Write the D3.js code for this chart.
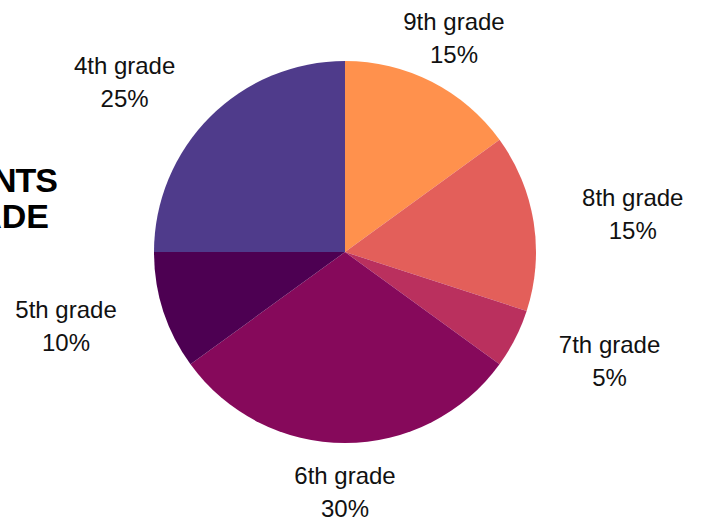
<!DOCTYPE html>
<html>
<head>
<meta charset="utf-8">
<script src="https://cdn.jsdelivr.net/npm/d3@7"></script>
<style>
  body { margin: 0; background: #fff; }
  svg { display: block; }
</style>
</head>
<body>
<div id="chart"></div>
<script>
const width = 701;
const height = 520;

// data
const grades = ["9th grade", "8th grade", "7th grade", "6th grade", "5th grade", "4th grade"];
const shares = [15, 15, 5, 30, 10, 25];
const colors = ["#FF914D", "#E35F5A", "#BA305E", "#86095B", "#4D0052", "#4F3B8B"];
const titleLines = ["STUDENTS", "BY GRADE"];

const cx = 345, cy = 252;
const radius = 191;
const labelRadius = 240;

const svg = d3.select("#chart")
    .append("svg")
    .attr("width", width)
    .attr("height", height);

// title, cut off at the left edge
const titleEnds = [57, 49];
const titleBase = [192, 228];
const titleSpacing = [-1, 0];
titleLines.forEach((line, i) => {
    svg.append("text")
        .attr("x", titleEnds[i]).attr("y", titleBase[i])
        .attr("text-anchor", "end")
        .attr("font-family", "Liberation Sans, Arial, sans-serif")
        .attr("font-weight", "bold")
        .attr("font-size", 34)
        .attr("letter-spacing", titleSpacing[i])
        .attr("fill", "#000")
        .text(line);
});

const color = d3.scaleOrdinal().domain(grades).range(colors);

const pie = d3.pie()
    .sort(null)
    .value(d => d.value);

const data = grades.map((g, i) => ({ grade: g, value: shares[i] }));
const arcs = pie(data);

const arc = d3.arc().innerRadius(0).outerRadius(radius);
const labelArc = d3.arc().innerRadius(labelRadius).outerRadius(labelRadius);

const g = svg.append("g").attr("transform", `translate(${cx},${cy})`);

g.selectAll("path")
    .data(arcs)
    .join("path")
    .attr("d", arc)
    .attr("fill", d => color(d.data.grade));

const total = d3.sum(shares);

// labels: block anchored by side, lines centred inside the block
const labels = g.selectAll("g.label")
    .data(arcs)
    .join("g")
    .attr("class", "label");

labels.each(function(d) {
    const [x, y] = labelArc.centroid(d);
    const mid = (d.startAngle + d.endAngle) / 2;
    const s = Math.sin(mid);
    const node = d3.select(this);
    const lines = [d.data.grade, Math.round(d.data.value / total * 100) + "%"];
    const t = node.append("text")
        .attr("font-family", "Liberation Sans, Arial, sans-serif")
        .attr("font-size", 24)
        .attr("fill", "#111")
        .attr("text-anchor", "middle");
    lines.forEach((line, i) => {
        t.append("tspan")
            .attr("x", 0)
            .attr("y", i === 0 ? -8 : 25)
            .text(line);
    });
    const w = t.node().getBBox().width;
    let dx = 0;
    if (s > 0.5) dx = w / 2;
    else if (s < -0.5) dx = -w / 2;
    node.attr("transform", `translate(${x + dx},${y})`);
});
</script>
</body>
</html>
